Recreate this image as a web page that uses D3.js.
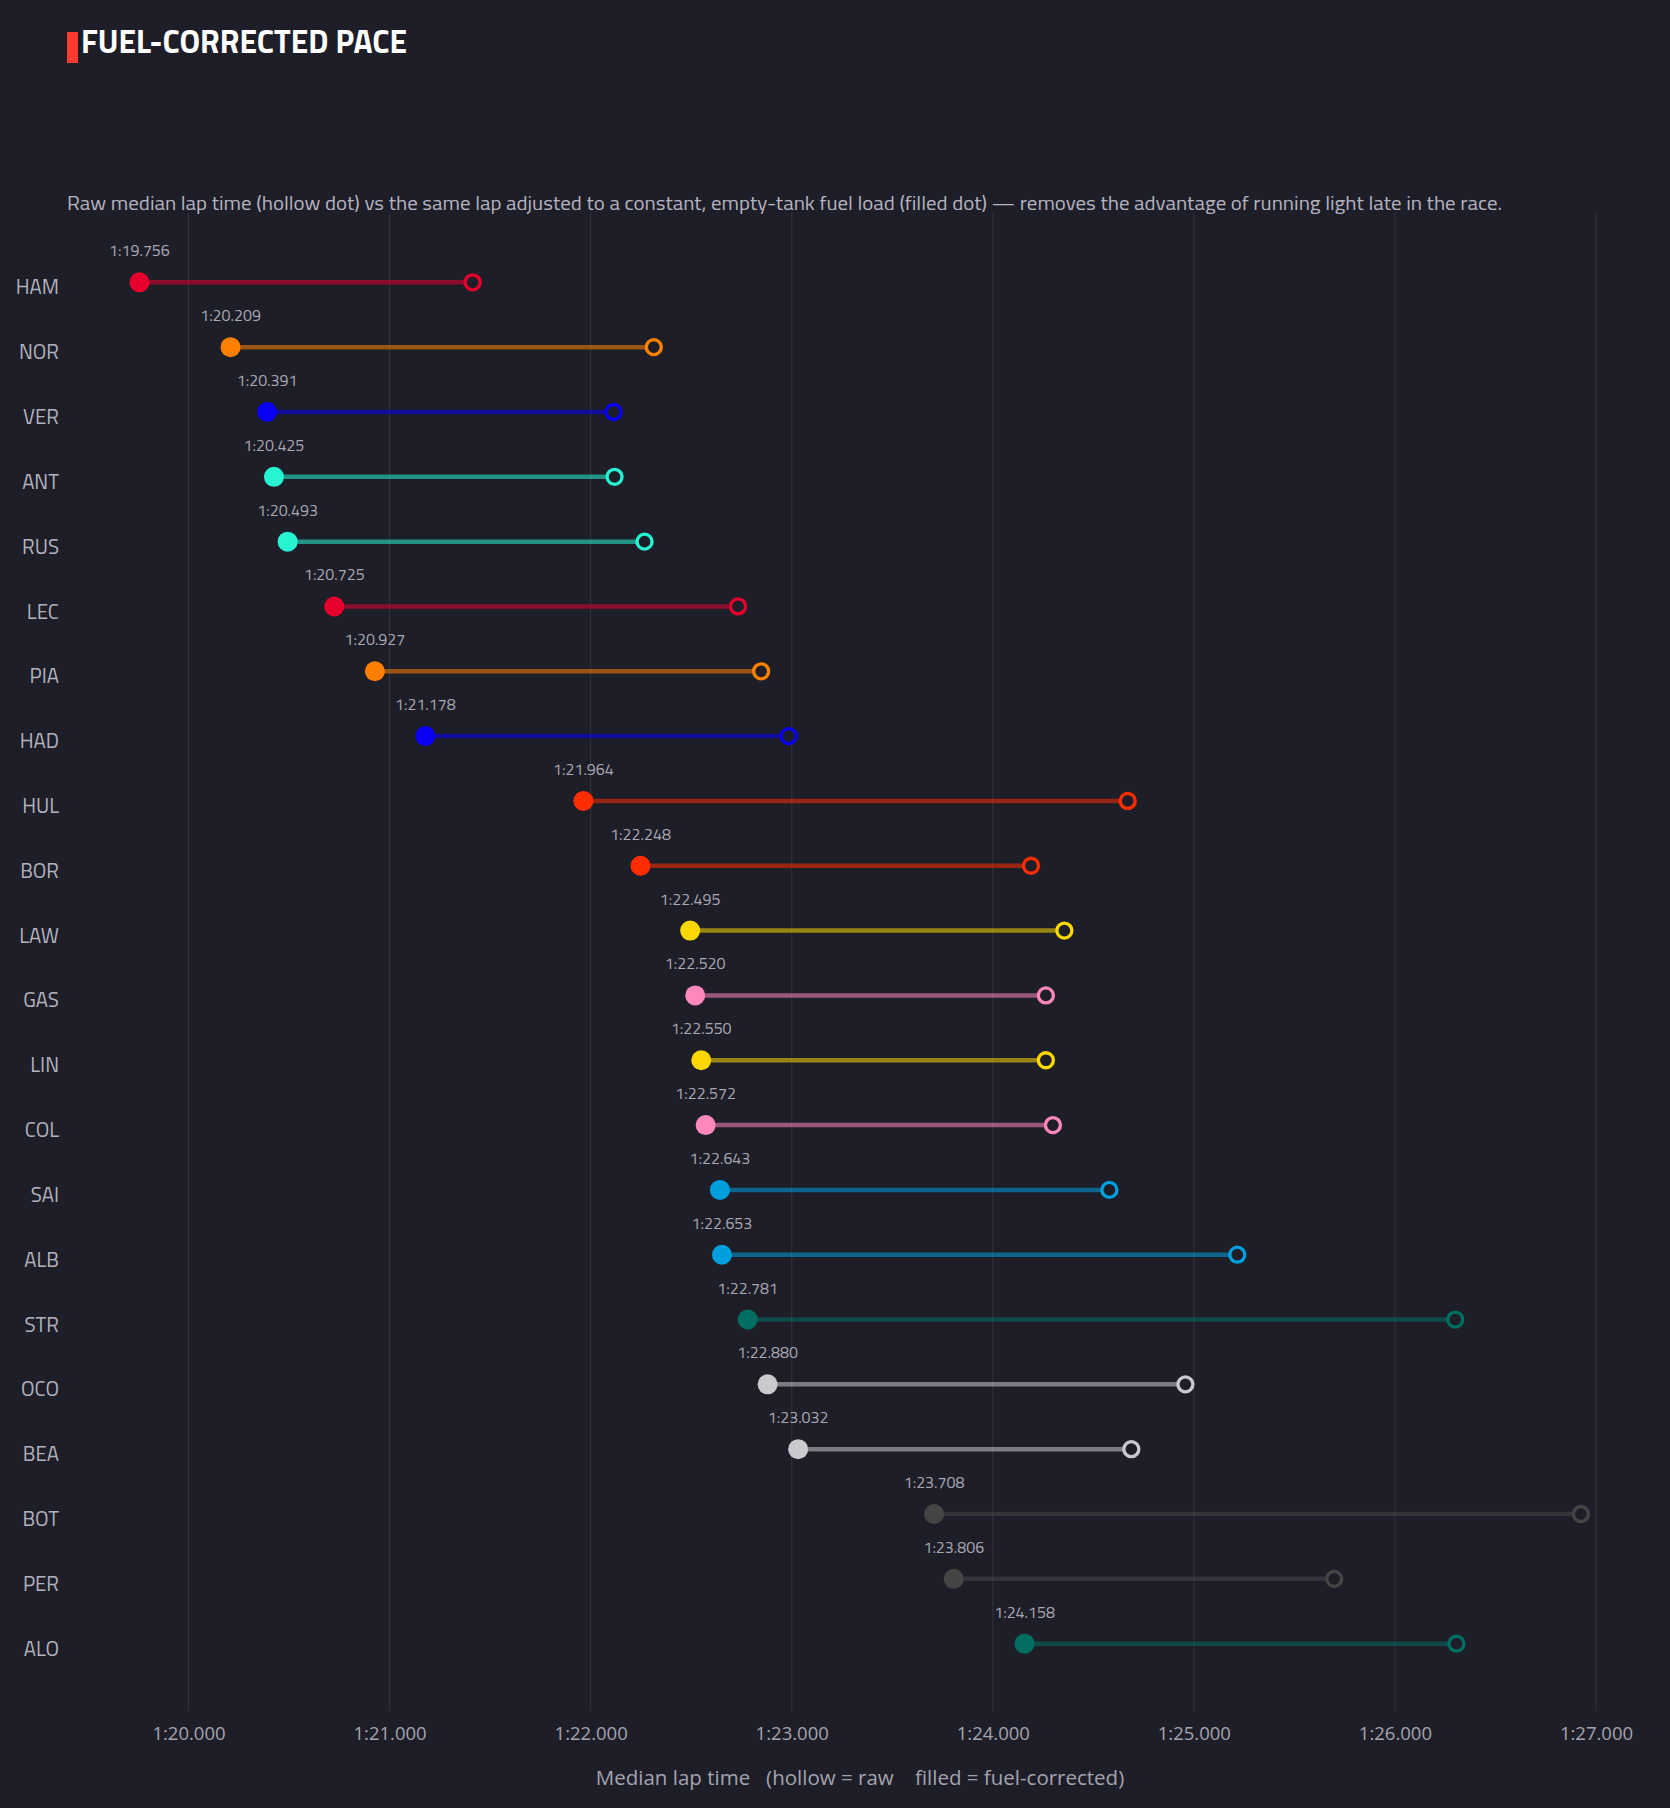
<!DOCTYPE html>
<html>
<head>
<meta charset="utf-8">
<script src="https://cdn.jsdelivr.net/npm/d3@7"></script>
<style>
  body { margin: 0; background: #1e1e28; }
  svg { display: block; }
</style>
</head>
<body>
<script>
const width = 1670;
const height = 1808;

// drivers, top to bottom
const drivers = ["HAM", "NOR", "VER", "ANT", "RUS", "LEC", "PIA", "HAD", "HUL", "BOR", "LAW",
  "GAS", "LIN", "COL", "SAI", "ALB", "STR", "OCO", "BEA", "BOT", "PER", "ALO"];

// fuel-corrected median lap (seconds), filled dot
const corrected = [79.756, 80.209, 80.391, 80.425, 80.493, 80.725, 80.927, 81.178, 81.964, 82.248, 82.495,
  82.520, 82.550, 82.572, 82.643, 82.653, 82.781, 82.880, 83.032, 83.708, 83.806, 84.158];

// raw median lap (seconds), hollow dot
const raw = [81.413, 82.314, 82.114, 82.119, 82.268, 82.733, 82.848, 82.985, 84.671, 84.190, 84.356,
  84.264, 84.264, 84.299, 84.580, 85.216, 86.300, 84.958, 84.689, 86.925, 85.698, 86.306];

const teamColors = ["#e8002d", "#ff8000", "#0a00f5", "#27f4d2", "#27f4d2", "#e8002d", "#ff8000", "#0a00f5", "#ff2d00", "#ff2d00", "#fcd700",
  "#ff87bc", "#fcd700", "#ff87bc", "#00a0de", "#00a0de", "#006f62", "#c8cacd", "#c8cacd", "#454545", "#454545", "#006f62"];

const xTicks = [80, 81, 82, 83, 84, 85, 86, 87];

const datos = drivers.map((d, i) => ({
  driver: d,
  corrected: corrected[i],
  raw: raw[i],
  color: teamColors[i],
}));

const fmtLap = (s) => {
  const m = Math.floor(s / 60);
  const rest = s - m * 60;
  return `${m}:${rest.toFixed(3).padStart(6, "0")}`;
};

const svg = d3
  .select("body")
  .append("svg")
  .attr("width", width)
  .attr("height", height);

svg.append("rect").attr("width", width).attr("height", height).attr("fill", "#1e1e28");

// title + red marker
svg.append("rect")
  .attr("x", 67).attr("y", 32)
  .attr("width", 11).attr("height", 31)
  .attr("fill", "#ff3b2f");

svg.append("text")
  .attr("x", 81).attr("y", 53)
  .attr("fill", "#ffffff")
  .attr("font-family", "'Titillium Web', Roboto, sans-serif")
  .attr("font-weight", 700)
  .attr("font-size", 33)
  .attr("textLength", 326)
  .attr("lengthAdjust", "spacingAndGlyphs")
  .text("FUEL-CORRECTED PACE");

svg.append("text")
  .attr("x", 67).attr("y", 210)
  .attr("fill", "#b4b4c0")
  .attr("font-family", "'Titillium Web', Roboto, sans-serif")
  .attr("font-size", 20)
  .attr("textLength", 1435)
  .attr("lengthAdjust", "spacingAndGlyphs")
  .text("Raw median lap time (hollow dot) vs the same lap adjusted to a constant, empty-tank fuel load (filled dot) \u2014 removes the advantage of running light late in the race.");

const escalaX = d3.scaleLinear().domain([80, 87]).range([188.5, 1596]);

const escalaY = d3.scalePoint().domain(drivers).range([217.5, 1708.5]).padding(1);

// vertical grid
svg.append("g")
  .selectAll("line")
  .data(xTicks)
  .join("line")
  .attr("x1", (d) => escalaX(d))
  .attr("x2", (d) => escalaX(d))
  .attr("y1", 213)
  .attr("y2", 1711)
  .attr("stroke", "#30303c")
  .attr("stroke-width", 1.2);

// x axis labels
const ejeX = d3.axisBottom(escalaX).tickValues(xTicks).tickFormat(fmtLap).tickSize(0).tickPadding(0);
const contenedorEjeX = svg.append("g").attr("transform", "translate(0, 1727)").call(ejeX);
contenedorEjeX.select(".domain").remove();
contenedorEjeX.selectAll("text")
  .attr("fill", "#a4a4b0")
  .attr("font-family", "'Open Sans', sans-serif")
  .attr("font-size", 18.5)
  .attr("dy", "0.71em");

// y axis labels
const ejeY = d3.axisLeft(escalaY).tickSize(0).tickPadding(0);
const contenedorEjeY = svg.append("g").attr("transform", "translate(59, 5)").call(ejeY);
contenedorEjeY.select(".domain").remove();
contenedorEjeY.selectAll("text")
  .attr("fill", "#b2b2be")
  .attr("font-family", "'Titillium Web', Roboto, sans-serif")
  .attr("font-size", 20.5);

// axis title
svg.append("text")
  .attr("x", 860).attr("y", 1785)
  .attr("text-anchor", "middle")
  .attr("fill", "#a4a4b0")
  .attr("font-family", "'Open Sans', sans-serif")
  .attr("font-size", 20.5)
  .style("white-space", "pre")
  .text("Median lap time   (hollow = raw    filled = fuel-corrected)");

const filas = svg.append("g")
  .selectAll("g")
  .data(datos)
  .join("g")
  .attr("transform", (d) => `translate(0, ${escalaY(d.driver)})`);

filas.append("line")
  .attr("x1", (d) => escalaX(d.corrected))
  .attr("x2", (d) => escalaX(d.raw))
  .attr("stroke", (d) => d.color)
  .attr("stroke-opacity", 0.55)
  .attr("stroke-width", 4.5);

filas.append("circle")
  .attr("cx", (d) => escalaX(d.raw))
  .attr("r", 7.5)
  .attr("fill", "#1e1e28")
  .attr("stroke", (d) => d.color)
  .attr("stroke-width", 3.3);

filas.append("circle")
  .attr("cx", (d) => escalaX(d.corrected))
  .attr("r", 10)
  .attr("fill", (d) => d.color);

filas.append("text")
  .attr("x", (d) => escalaX(d.corrected))
  .attr("y", -26)
  .attr("text-anchor", "middle")
  .attr("fill", "#a8a8b4")
  .attr("font-family", "'Titillium Web', Roboto, sans-serif")
  .attr("font-size", 16)
  .text((d) => fmtLap(d.corrected));
</script>
</body>
</html>
